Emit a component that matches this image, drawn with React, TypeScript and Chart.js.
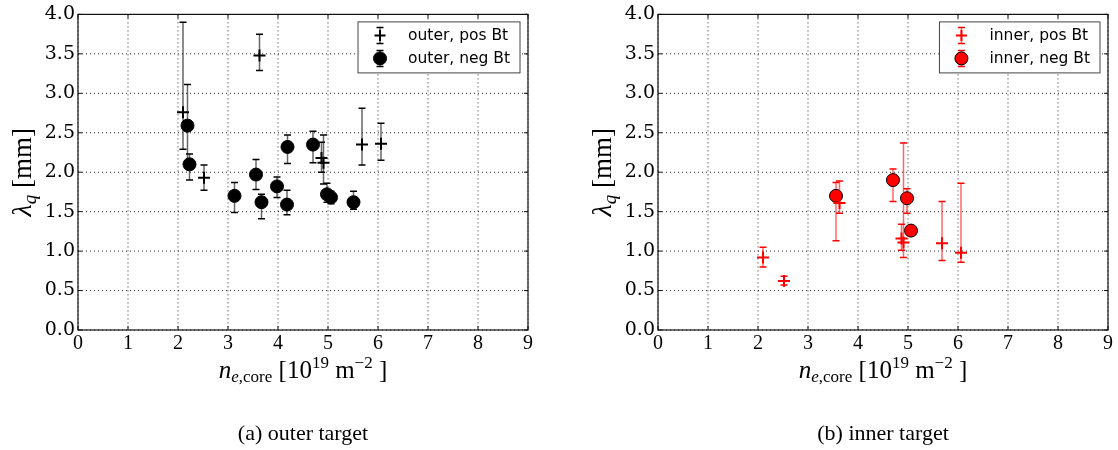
import React, { useEffect, useRef } from "react";
import { Chart, registerables } from "chart.js";

Chart.register(...registerables);

// Axis ticks
const xTickValues = [0, 1, 2, 3, 4, 5, 6, 7, 8, 9];
const yTickValues = [0, 0.5, 1.0, 1.5, 2.0, 2.5, 3.0, 3.5, 4.0];

// Shots with positive toroidal field (same densities for both targets)
const posDensity = [2.10, 2.52, 3.63, 4.87, 4.91, 5.68, 6.06];
const outerPosLambda = [2.76, 1.93, 3.48, 2.18, 2.12, 2.35, 2.36];
const outerPosLow = [2.29, 1.77, 3.29, 2.00, 1.85, 2.09, 2.15];
const outerPosHigh = [3.90, 2.09, 3.75, 2.38, 2.47, 2.81, 2.62];
const innerPosLambda = [0.92, 0.62, 1.61, 1.16, 1.11, 1.10, 0.98];
const innerPosLow = [0.80, 0.57, 1.48, 1.01, 0.92, 0.88, 0.86];
const innerPosHigh = [1.05, 0.68, 1.89, 1.34, 2.37, 1.63, 1.86];

// Shots with negative toroidal field
const outerNegDensity = [2.19, 2.23, 3.13, 3.56, 3.67, 3.98, 4.18, 4.19, 4.70, 4.98, 5.06, 5.51];
const outerNegLambda = [2.59, 2.10, 1.70, 1.97, 1.62, 1.82, 1.59, 2.32, 2.35, 1.72, 1.68, 1.62];
const outerNegLow = [2.07, 1.90, 1.49, 1.78, 1.41, 1.68, 1.46, 2.11, 2.12, 1.62, 1.60, 1.53];
const outerNegHigh = [3.11, 2.23, 1.87, 2.16, 1.72, 1.94, 1.77, 2.47, 2.52, 1.86, 1.76, 1.76];
const innerNegDensity = [3.56, 4.70, 4.98, 5.06];
const innerNegLambda = [1.70, 1.90, 1.67, 1.26];
const innerNegLow = [1.13, 1.63, 1.48, 1.23];
const innerNegHigh = [1.87, 2.04, 1.79, 1.29];

const SERIF = '"Liberation Serif", "DejaVu Serif", serif';

type Run = { t: string; size: number; italic?: boolean; dy?: number };

function runFont(r: Run) {
  return `${r.italic ? "italic " : ""}${r.size}px ${SERIF}`;
}

function drawRuns(ctx: CanvasRenderingContext2D, runs: Run[], cx: number, y: number) {
  const widths = runs.map((r) => {
    ctx.font = runFont(r);
    return ctx.measureText(r.t).width;
  });
  const total = widths.reduce((a, b) => a + b, 0);
  let x = cx - total / 2;
  ctx.textAlign = "left";
  ctx.textBaseline = "alphabetic";
  runs.forEach((r, i) => {
    ctx.font = runFont(r);
    ctx.fillText(r.t, x, y + (r.dy || 0));
    x += widths[i];
  });
}

const xTitleRuns: Run[] = [
  { t: "n", size: 25, italic: true },
  { t: "e", size: 17, italic: true, dy: 4 },
  { t: ",core", size: 17, dy: 4 },
  { t: " [10", size: 25 },
  { t: "19", size: 17, dy: -10 },
  { t: " m", size: 25 },
  { t: "\u22122", size: 17, dy: -10 },
  { t: " ]", size: 25 },
];

const yTitleRuns: Run[] = [
  { t: "\u03bb", size: 28, italic: true },
  { t: "q", size: 19, italic: true, dy: 5 },
  { t: " [mm]", size: 27 },
];

type Series = {
  label: string;
  x: number[];
  y: number[];
  lo: number[];
  hi: number[];
  marker: "cross" | "circle";
  color: string;
  barColor: string;
};

type PanelSpec = {
  caption: string;
  padRight: number;
  series: Series[];
};

function drawErrorBar(
  ctx: CanvasRenderingContext2D,
  px: number,
  top: number,
  bot: number,
  barColor: string,
  capColor: string
) {
  ctx.strokeStyle = barColor;
  ctx.lineWidth = 1.5;
  ctx.beginPath();
  ctx.moveTo(px, top);
  ctx.lineTo(px, bot);
  ctx.stroke();
  ctx.strokeStyle = capColor;
  ctx.beginPath();
  ctx.moveTo(px - 3.5, top);
  ctx.lineTo(px + 3.5, top);
  ctx.moveTo(px - 3.5, bot);
  ctx.lineTo(px + 3.5, bot);
  ctx.stroke();
}

function makeDecorPlugin(spec: PanelSpec) {
  return {
    id: "panelDecor",
    beforeDatasetsDraw(chart: any) {
      const { ctx, chartArea: a, scales } = chart;
      ctx.save();
      // dotted grid
      ctx.strokeStyle = "rgba(0,0,0,0.85)";
      ctx.lineWidth = 1;
      ctx.setLineDash([1, 3]);
      ctx.beginPath();
      xTickValues.forEach((v) => {
        const px = scales.x.getPixelForValue(v);
        ctx.moveTo(px, a.top);
        ctx.lineTo(px, a.bottom);
      });
      yTickValues.forEach((v) => {
        const py = scales.y.getPixelForValue(v);
        ctx.moveTo(a.left, py);
        ctx.lineTo(a.right, py);
      });
      ctx.stroke();
      ctx.restore();
    },
    beforeDatasetDraw(chart: any, args: any) {
      const s = spec.series[args.index];
      if (!s) return;
      const { ctx, scales } = chart;
      ctx.save();
      s.x.forEach((xv, i) => {
        const px = scales.x.getPixelForValue(xv);
        drawErrorBar(
          ctx,
          px,
          scales.y.getPixelForValue(s.hi[i]),
          scales.y.getPixelForValue(s.lo[i]),
          s.barColor,
          s.color
        );
      });
      ctx.restore();
    },
    afterDraw(chart: any) {
      const { ctx, chartArea: a, scales } = chart;
      ctx.save();
      // frame
      ctx.strokeStyle = "#111";
      ctx.lineWidth = 1.2;
      ctx.setLineDash([]);
      ctx.strokeRect(a.left, a.top, a.right - a.left, a.bottom - a.top);
      // inward ticks on all four sides
      ctx.lineWidth = 1;
      ctx.beginPath();
      xTickValues.forEach((v) => {
        const px = scales.x.getPixelForValue(v);
        ctx.moveTo(px, a.bottom);
        ctx.lineTo(px, a.bottom - 4);
        ctx.moveTo(px, a.top);
        ctx.lineTo(px, a.top + 4);
      });
      yTickValues.forEach((v) => {
        const py = scales.y.getPixelForValue(v);
        ctx.moveTo(a.left, py);
        ctx.lineTo(a.left + 4, py);
        ctx.moveTo(a.right, py);
        ctx.lineTo(a.right - 4, py);
      });
      ctx.stroke();

      // legend
      ctx.font = '15.5px "DejaVu Sans", sans-serif';
      const textW = Math.max(...spec.series.map((s) => ctx.measureText(s.label).width));
      const boxW = 50 + textW + 10;
      const boxR = a.right - 8;
      const boxL = boxR - boxW;
      const boxT = a.top + 7.5;
      const boxH = 51;
      ctx.fillStyle = "#fff";
      ctx.fillRect(boxL, boxT, boxW, boxH);
      ctx.strokeStyle = "#444";
      ctx.lineWidth = 1;
      ctx.strokeRect(boxL, boxT, boxW, boxH);
      spec.series.forEach((s, i) => {
        const cy = boxT + 13.5 + i * 23;
        const mx = boxL + 22;
        drawErrorBar(ctx, mx, cy - 8, cy + 8, s.barColor, s.color);
        if (s.marker === "cross") {
          ctx.strokeStyle = s.color;
          ctx.lineWidth = 2;
          ctx.beginPath();
          ctx.moveTo(mx - 5.5, cy);
          ctx.lineTo(mx + 5.5, cy);
          ctx.moveTo(mx, cy - 5.5);
          ctx.lineTo(mx, cy + 5.5);
          ctx.stroke();
        } else {
          ctx.fillStyle = s.color;
          ctx.strokeStyle = "#000";
          ctx.lineWidth = 1;
          ctx.beginPath();
          ctx.arc(mx, cy, 6.5, 0, Math.PI * 2);
          ctx.fill();
          ctx.stroke();
        }
        ctx.fillStyle = "#000";
        ctx.font = '15.5px "DejaVu Sans", sans-serif';
        ctx.textAlign = "left";
        ctx.textBaseline = "middle";
        ctx.fillText(s.label, boxL + 50, cy + 1);
      });

      // axis titles and caption
      ctx.fillStyle = "#000";
      const midX = (a.left + a.right) / 2;
      drawRuns(ctx, xTitleRuns, midX, 378);
      ctx.save();
      ctx.translate(31, (a.top + a.bottom) / 2);
      ctx.rotate(-Math.PI / 2);
      drawRuns(ctx, yTitleRuns, 0, 0);
      ctx.restore();
      ctx.font = `22px ${SERIF}`;
      ctx.textAlign = "center";
      ctx.textBaseline = "alphabetic";
      ctx.fillText(spec.caption, midX, 440);
      ctx.restore();
    },
  };
}

function buildConfig(spec: PanelSpec): any {
  return {
    type: "scatter",
    data: {
      datasets: spec.series.map((s) => ({
        label: s.label,
        data: s.x.map((x, i) => ({ x, y: s.y[i] })),
        pointStyle: s.marker,
        pointRadius: s.marker === "cross" ? 6 : 6.5,
        pointHoverRadius: 6,
        backgroundColor: s.color,
        borderColor: s.marker === "cross" ? s.color : "#000",
        borderWidth: s.marker === "cross" ? 2 : 1,
      })),
    },
    options: {
      responsive: false,
      animation: false,
      events: [],
      layout: { padding: { top: 14, right: spec.padRight, bottom: 0, left: 0 } },
      plugins: { legend: { display: false }, tooltip: { enabled: false } },
      scales: {
        x: {
          type: "linear",
          min: 0,
          max: 9,
          afterBuildTicks: (sc: any) => {
            sc.ticks = xTickValues.map((v) => ({ value: v }));
          },
          afterFit: (sc: any) => {
            sc.height = 120;
          },
          grid: { display: false, drawTicks: false },
          border: { display: false },
          ticks: {
            color: "#000",
            padding: 2,
            maxRotation: 0,
            autoSkip: false,
            font: { family: SERIF, size: 20 },
            callback: (v: any) => String(v),
          },
        },
        y: {
          type: "linear",
          min: 0,
          max: 4,
          afterBuildTicks: (sc: any) => {
            sc.ticks = yTickValues.map((v) => ({ value: v }));
          },
          afterFit: (sc: any) => {
            sc.width = 78;
          },
          grid: { display: false, drawTicks: false },
          border: { display: false },
          ticks: {
            color: "#000",
            padding: 3,
            autoSkip: false,
            font: { family: '"DejaVu Serif", serif', size: 19 },
            callback: (v: any) => Number(v).toFixed(1),
          },
        },
      },
    },
    plugins: [makeDecorPlugin(spec)],
  };
}

const outerSpec: PanelSpec = {
  caption: "(a) outer target",
  padRight: 32,
  series: [
    {
      label: "outer, pos Bt",
      x: posDensity,
      y: outerPosLambda,
      lo: outerPosLow,
      hi: outerPosHigh,
      marker: "cross",
      color: "#000",
      barColor: "rgba(0,0,0,0.6)",
    },
    {
      label: "outer, neg Bt",
      x: outerNegDensity,
      y: outerNegLambda,
      lo: outerNegLow,
      hi: outerNegHigh,
      marker: "circle",
      color: "#000",
      barColor: "rgba(0,0,0,0.6)",
    },
  ],
};

const innerSpec: PanelSpec = {
  caption: "(b) inner target",
  padRight: 10,
  series: [
    {
      label: "inner, pos Bt",
      x: posDensity,
      y: innerPosLambda,
      lo: innerPosLow,
      hi: innerPosHigh,
      marker: "cross",
      color: "#ff0000",
      barColor: "rgba(255,0,0,0.6)",
    },
    {
      label: "inner, neg Bt",
      x: innerNegDensity,
      y: innerNegLambda,
      lo: innerNegLow,
      hi: innerNegHigh,
      marker: "circle",
      color: "#ff0000",
      barColor: "rgba(255,0,0,0.6)",
    },
  ],
};

export default function App() {
  const outerRef = useRef<HTMLCanvasElement>(null);
  const innerRef = useRef<HTMLCanvasElement>(null);

  useEffect(() => {
    const charts: Chart[] = [];
    if (outerRef.current) charts.push(new Chart(outerRef.current, buildConfig(outerSpec)));
    if (innerRef.current) charts.push(new Chart(innerRef.current, buildConfig(innerSpec)));
    return () => charts.forEach((c) => c.destroy());
  }, []);

  return (
    <div
      style={{
        position: "absolute",
        left: 0,
        top: 0,
        width: 1118,
        height: 450,
        background: "#fff",
      }}
    >
      <canvas
        ref={outerRef}
        width={560}
        height={450}
        style={{ position: "absolute", left: 0, top: 0, width: 560, height: 450 }}
      />
      <canvas
        ref={innerRef}
        width={538}
        height={450}
        style={{ position: "absolute", left: 580, top: 0, width: 538, height: 450 }}
      />
    </div>
  );
}
